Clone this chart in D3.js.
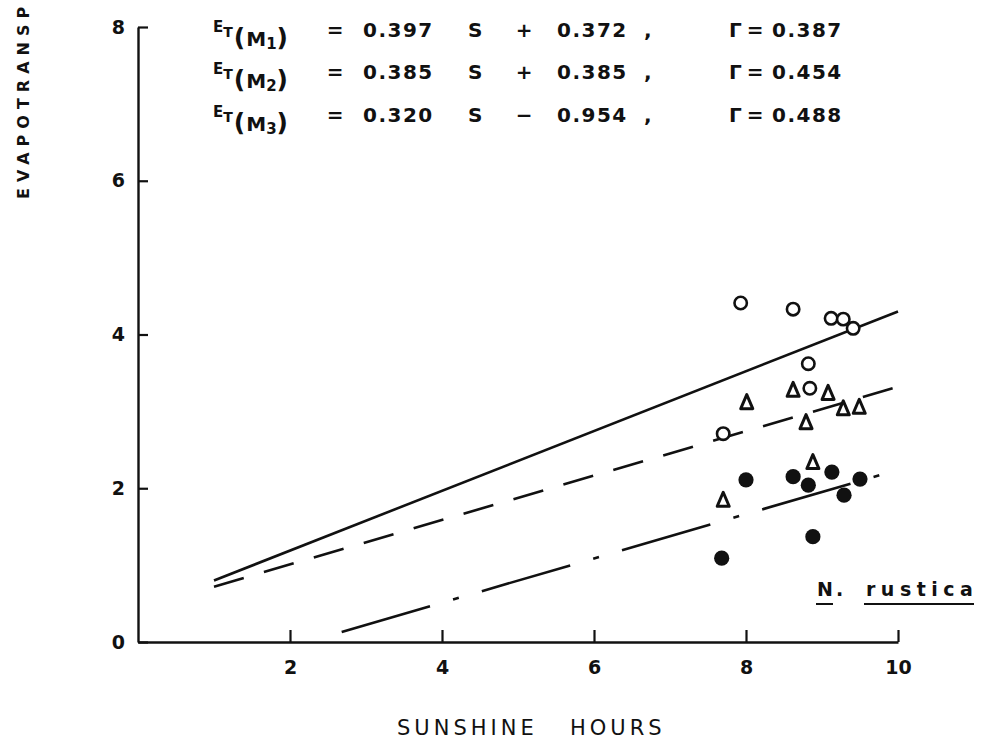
<!DOCTYPE html>
<html>
<head>
<meta charset="utf-8">
<script src="https://cdn.jsdelivr.net/npm/d3@7"></script>
<style>
  html, body { margin: 0; padding: 0; background: #fff; }
  svg text { font-family: "DejaVu Sans", sans-serif; fill: #111; }
</style>
</head>
<body>
<svg id="chart"></svg>
<script>
// sunshine hours vs evapotranspiration, N. rustica
const xTicks = [2, 4, 6, 8, 10];
const yTicks = [0, 2, 4, 6, 8];

// M1 : open circles
const m1X = [7.93, 8.62, 9.12, 9.28, 9.41, 8.82, 8.84, 7.70];
const m1Y = [4.41, 4.33, 4.21, 4.20, 4.08, 3.62, 3.30, 2.71];
// M2 : triangles
const m2X = [8.01, 8.62, 9.08, 9.28, 9.49, 8.79, 8.88, 7.70];
const m2Y = [3.12, 3.28, 3.24, 3.04, 3.06, 2.86, 2.34, 1.85];
// M3 : filled circles
const m3X = [8.00, 8.62, 8.82, 9.13, 9.50, 9.29, 8.88, 7.68];
const m3Y = [2.11, 2.15, 2.04, 2.21, 2.12, 1.91, 1.37, 1.09];

// fitted lines as drawn (start, end)
const fitX = [[1, 10], [1, 10], [2.68, 10]];
const fitY = [[0.80, 4.30], [0.72, 3.32], [0.13, 2.24]];

// equation text
const eqIndex = ['1', '2', '3'];
const eqSlope = ['0.397', '0.385', '0.320'];
const eqSign = ['+', '+', '\u2212'];
const eqIntercept = ['0.372', '0.385', '0.954'];
const eqR = ['0.387', '0.454', '0.488'];

const W = 983, H = 740;
const svg = d3.select('#chart').attr('width', W).attr('height', H);

const x = d3.scaleLinear().domain([0, 10]).range([138, 898]);
const y = d3.scaleLinear().domain([0, 8]).range([642, 27]);

const ink = '#111';

// axes
const xAxis = svg.append('g')
  .attr('transform', `translate(0,${y(0)})`)
  .call(d3.axisBottom(x).tickValues(xTicks).tickSizeInner(-12).tickSizeOuter(0).tickPadding(19));
const yAxis = svg.append('g')
  .attr('transform', `translate(${x(0)},0)`)
  .call(d3.axisLeft(y).tickValues(yTicks).tickSizeInner(-10).tickSizeOuter(0).tickPadding(13));

[xAxis, yAxis].forEach(g => {
  g.select('.domain').attr('stroke', ink).attr('stroke-width', 2.4);
  g.selectAll('.tick line').attr('stroke', ink).attr('stroke-width', 2.2);
  g.selectAll('.tick text')
    .attr('fill', ink)
    .style('font-size', '19px')
    .style('font-weight', 'bold');
});

// fitted lines
const dashes = [null, '31,21', '92,24,6,24'];
fitX.forEach((xs, i) => {
  svg.append('line')
    .attr('x1', x(xs[0])).attr('y1', y(fitY[i][0]))
    .attr('x2', x(xs[1])).attr('y2', y(fitY[i][1]))
    .attr('stroke', ink)
    .attr('stroke-width', 2.6)
    .attr('stroke-dasharray', dashes[i]);
});

// points
svg.append('g').selectAll('circle')
  .data(d3.range(m1X.length))
  .enter()
  .append('circle')
  .attr('cx', i => x(m1X[i]))
  .attr('cy', i => y(m1Y[i]))
  .attr('r', 6.2)
  .attr('fill', '#fff')
  .attr('stroke', ink)
  .attr('stroke-width', 2.6);

const tri = 'M0,-7.5L6,6.5L-6,6.5Z';
svg.append('g').selectAll('path')
  .data(d3.range(m2X.length))
  .enter()
  .append('path')
  .attr('d', tri)
  .attr('transform', i => `translate(${x(m2X[i])},${y(m2Y[i])})`)
  .attr('fill', '#fff')
  .attr('stroke', ink)
  .attr('stroke-width', 3)
  .attr('stroke-linejoin', 'round');

svg.append('g').selectAll('circle')
  .data(d3.range(m3X.length))
  .enter()
  .append('circle')
  .attr('cx', i => x(m3X[i]))
  .attr('cy', i => y(m3Y[i]))
  .attr('r', 7.6)
  .attr('fill', ink);

// equations
const rowBase = [37, 79, 122];
eqIndex.forEach((k, i) => {
  const b = rowBase[i];
  const g = svg.append('g').style('font-weight', 'bold');
  const lab = g.append('text').attr('x', 213).attr('y', b - 5);
  lab.append('tspan').text('E').style('font-size', '15px');
  lab.append('tspan').text('T').style('font-size', '14px').attr('dy', 5);
  lab.append('tspan').text('(').style('font-size', '25px').attr('dy', 9).attr('dx', 1);
  lab.append('tspan').text('M').style('font-size', '20px').attr('dx', 1);
  lab.append('tspan').text(k).style('font-size', '15px').attr('dy', 3);
  lab.append('tspan').text(')').style('font-size', '25px').attr('dy', -3);

  const t = (xx, s, anchor) => g.append('text')
    .attr('x', xx).attr('y', b)
    .attr('text-anchor', anchor || 'start')
    .style('font-size', '20px')
    .style('letter-spacing', '1.5px')
    .text(s);
  t(336, '=', 'middle');
  t(363, eqSlope[i]);
  t(468, 'S');
  t(525, eqSign[i], 'middle');
  t(557, eqIntercept[i]);
  t(644, ',');
  t(729, '\u0393');
  t(756, '=', 'middle');
  t(772, eqR[i]);
});

// axis titles
svg.append('text')
  .attr('transform', 'translate(29,199) rotate(-90)')
  .style('font-size', '16px')
  .style('font-weight', 'bold')
  .style('letter-spacing', '6px')
  .text('EVAPOTRANSP');

const xt = svg.append('g')
  .style('font-family', '"DejaVu Sans Condensed", "DejaVu Sans", sans-serif')
  .style('font-size', '21px')
  .style('letter-spacing', '4px');
xt.append('text').attr('x', 397).attr('y', 735).text('SUNSHINE');
xt.append('text').attr('x', 570).attr('y', 735).text('HOURS');

// species label
const sp = svg.append('g').style('font-weight', 'bold').style('font-size', '19px');
sp.append('text').attr('x', 817).attr('y', 596).style('letter-spacing', '3px').text('N.');
sp.append('text').attr('x', 866).attr('y', 596).style('letter-spacing', '5.5px').text('rustica');
sp.append('line').attr('x1', 816).attr('x2', 833).attr('y1', 604).attr('y2', 604)
  .attr('stroke', ink).attr('stroke-width', 2);
sp.append('line').attr('x1', 864).attr('x2', 974).attr('y1', 604).attr('y2', 604)
  .attr('stroke', ink).attr('stroke-width', 2);
</script>
</body>
</html>
